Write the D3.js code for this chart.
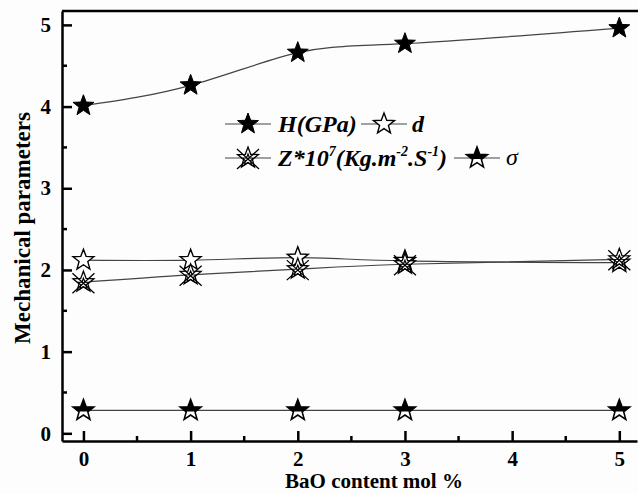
<!DOCTYPE html>
<html>
<head>
<meta charset="utf-8">
<script src="https://cdn.jsdelivr.net/npm/d3@7"></script>
<style>
  html, body { margin: 0; padding: 0; background: #fff; }
  svg { display: block; }
  text { font-family: "Liberation Serif", "Times New Roman", serif; font-weight: bold; }
</style>
</head>
<body>
<svg id="chart" width="638" height="494"></svg>
<script>
// BaO content (mol %)
const baoContent = [0, 1, 2, 3, 5];
// Mechanical parameters per composition
const hardness = [4.01, 4.26, 4.66, 4.77, 4.96];      // H (GPa)
const density = [2.12, 2.12, 2.15, 2.11, 2.09];       // d
const impedance = [1.85, 1.94, 2.01, 2.07, 2.13];     // Z*10^7
const poisson = [0.28, 0.28, 0.28, 0.28, 0.28];       // sigma
const xTicks = [0, 1, 2, 3, 4, 5];
const yTicks = [0, 1, 2, 3, 4, 5];

const svg = d3.select("#chart");
const plotLeft = 62, plotRight = 637, plotTop = 11, plotBottom = 441;

const x = d3.scaleLinear().domain([-0.2, 5.165]).range([plotLeft, plotRight]);
const y = d3.scaleLinear().domain([-0.094, 5.17]).range([plotBottom, plotTop]);

svg.append("rect").attr("width", 638).attr("height", 494).attr("fill", "#fdfdfd");

// frame
svg.append("line").attr("x1", plotLeft).attr("x2", 638).attr("y1", plotTop).attr("y2", plotTop)
  .attr("stroke", "#000").attr("stroke-width", 2.5);

// star path generator
function starPoints(R, r) {
  const pts = [];
  for (let i = 0; i < 10; i++) {
    const a = -Math.PI / 2 + i * Math.PI / 5;
    const rad = i % 2 === 0 ? R : r;
    pts.push([rad * Math.cos(a), rad * Math.sin(a)]);
  }
  return pts;
}
const starPath = (R, r) => "M" + starPoints(R, r).map(p => p.join(",")).join("L") + "Z";

const defs = svg.append("defs");
defs.append("clipPath").attr("id", "upperHalf")
  .append("rect").attr("x", -20).attr("y", -20).attr("width", 40).attr("height", 21);

const R = 11, r = 4.6;
const markers = {
  filled(g) {
    g.append("path").attr("d", starPath(R, r)).attr("fill", "#000").attr("stroke", "#000").attr("stroke-width", 1);
  },
  open(g) {
    g.append("path").attr("d", starPath(R, r)).attr("fill", "#fff").attr("stroke", "#000").attr("stroke-width", 1.4);
  },
  burst(g) {
    g.append("path").attr("d", starPath(R, r)).attr("fill", "#fff").attr("stroke", "#000").attr("stroke-width", 1.3);
    g.append("path").attr("d", "M-11,-9L11,11M11,-9L-11,11").attr("stroke", "#000").attr("stroke-width", 1.3);
    g.append("path").attr("d", starPath(6, 2.6)).attr("transform", "translate(0,2)").attr("fill", "none").attr("stroke", "#000").attr("stroke-width", 1.2);
  },
  half(g) {
    g.append("path").attr("d", starPath(R, r)).attr("fill", "#fff").attr("stroke", "#000").attr("stroke-width", 1.6);
    g.append("path").attr("d", starPath(R, r)).attr("fill", "#000").attr("clip-path", "url(#upperHalf)");
  }
};

const series = [
  { values: hardness, marker: "filled" },
  { values: density, marker: "open" },
  { values: impedance, marker: "burst" },
  { values: poisson, marker: "half" }
];

const line = d3.line().x(d => x(d[0])).y(d => y(d[1])).curve(d3.curveNatural);

series.forEach(s => {
  const pts = baoContent.map((b, i) => [b, s.values[i]]);
  svg.append("path").attr("d", line(pts)).attr("fill", "none")
    .attr("stroke", "#444").attr("stroke-width", 1.2);
});
series.forEach(s => {
  baoContent.forEach((b, i) => {
    const g = svg.append("g").attr("transform", `translate(${x(b)},${y(s.values[i])})`);
    markers[s.marker](g);
  });
});

// axes
const xAxis = svg.append("g").attr("transform", `translate(0,${plotBottom})`)
  .call(d3.axisBottom(x).tickValues(xTicks).tickSizeInner(-10).tickSizeOuter(0).tickPadding(10).tickFormat(d3.format("d")));
const yAxis = svg.append("g").attr("transform", `translate(${plotLeft},0)`)
  .call(d3.axisLeft(y).tickValues(yTicks).tickSizeInner(-10).tickSizeOuter(0).tickPadding(11).tickFormat(d3.format("d")));
[xAxis, yAxis].forEach(a => {
  a.select(".domain").attr("stroke", "#000").attr("stroke-width", 2.5);
  a.selectAll(".tick line").attr("stroke", "#000").attr("stroke-width", 2.5);
  a.selectAll(".tick text").attr("fill", "#000").style("font-size", "21px").style("font-weight", "bold")
    .style("font-family", "'Liberation Serif', serif");
});
// minor ticks
const xMinor = d3.range(0.5, 5, 1);
svg.append("g").selectAll("line").data(xMinor).join("line")
  .attr("x1", d => x(d)).attr("x2", d => x(d)).attr("y1", plotBottom).attr("y2", plotBottom - 5)
  .attr("stroke", "#000").attr("stroke-width", 2.5);
const yMinor = d3.range(0.5, 5, 1);
svg.append("g").selectAll("line").data(yMinor).join("line")
  .attr("x1", plotLeft).attr("x2", plotLeft + 5).attr("y1", d => y(d)).attr("y2", d => y(d))
  .attr("stroke", "#000").attr("stroke-width", 2.5);

// axis titles
svg.append("text").attr("x", 374).attr("y", 488).attr("text-anchor", "middle")
  .style("font-size", "21px").text("BaO content mol %");
svg.append("text").attr("transform", "translate(30,228) rotate(-90)").attr("text-anchor", "middle")
  .style("font-size", "23px").text("Mechanical parameters");

// legend
const legend = svg.append("g").style("font-style", "italic").style("font-size", "24px");
function legendItem(mx, my, marker) {
  legend.append("line").attr("x1", mx - 23).attr("x2", mx + 23).attr("y1", my).attr("y2", my)
    .attr("stroke", "#444").attr("stroke-width", 1.2);
  const g = legend.append("g").attr("transform", `translate(${mx},${my})`);
  markers[marker](g);
}
legendItem(248, 124, "filled");
legend.append("text").attr("x", 278).attr("y", 132).text("H(GPa)");
legendItem(384, 124, "open");
legend.append("text").attr("x", 412).attr("y", 132).text("d");

legendItem(248, 158, "burst");
const zt = legend.append("text").attr("x", 278).attr("y", 166);
zt.append("tspan").text("Z*10");
zt.append("tspan").attr("dy", -10).style("font-size", "14px").text("7");
zt.append("tspan").attr("dy", 10).text("(Kg.m");
zt.append("tspan").attr("dy", -10).style("font-size", "14px").text("-2");
zt.append("tspan").attr("dy", 10).text(".S");
zt.append("tspan").attr("dy", -10).style("font-size", "14px").text("-1");
zt.append("tspan").attr("dy", 10).text(")");
legendItem(477, 158, "half");
legend.append("text").attr("x", 506).attr("y", 165).style("font-weight", "normal").text("σ");
</script>
</body>
</html>
